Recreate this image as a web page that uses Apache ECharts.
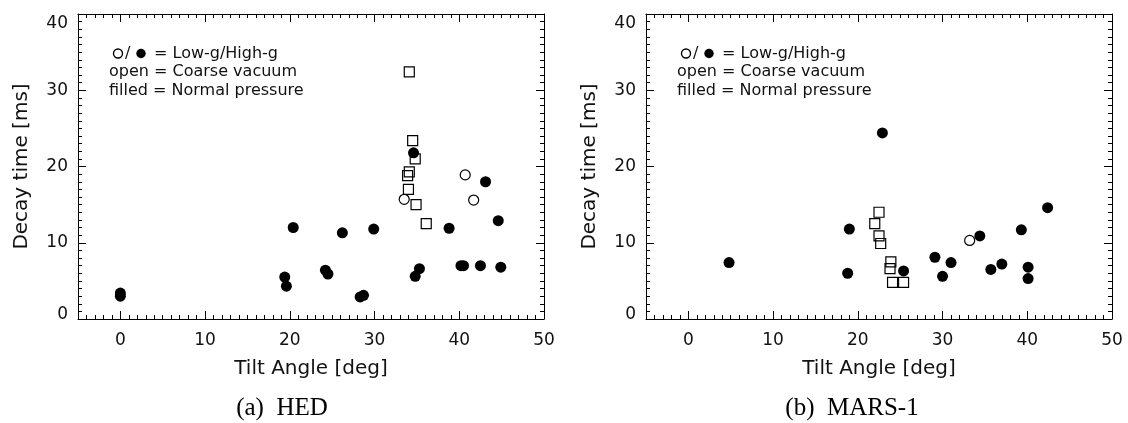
<!DOCTYPE html>
<html>
<head>
    <meta charset="utf-8">
    <title>Decay time vs tilt angle</title>
    <script src="https://cdn.jsdelivr.net/npm/echarts@6/dist/echarts.min.js"></script>
    <style>
        html, body { margin: 0; padding: 0; background: #fff; }
    </style>
</head>
<body>
<div id="main" style="width: 1128px;height:423px;"></div>
<script type="text/javascript">
    // tick labels
    var xTicks = [0, 10, 20, 30, 40, 50];
    var yTicks = [0, 10, 20, 30, 40];
    var captions = ['(a)  HED', '(b)  MARS-1'];

    // HED panel: [tilt angle, decay time]
    var hedFilled = [[0, 3.4], [0, 3.0], [19.4, 5.5], [19.6, 4.3], [20.4, 12.0], [24.2, 6.4], [24.5, 5.9],
        [26.2, 11.3], [28.3, 2.9], [28.7, 3.1], [29.9, 11.8], [34.6, 21.8], [34.8, 5.6], [35.3, 6.6],
        [38.8, 11.9], [40.2, 7.0], [40.5, 7.0], [42.5, 7.0], [43.1, 18.0], [44.6, 12.9], [44.9, 6.8]];
    var hedOpen = [[33.5, 15.7], [40.7, 18.9], [41.7, 15.6]];
    var hedSquare = [[34.1, 32.4], [34.5, 23.4], [34.8, 21.0], [34.1, 19.3], [33.9, 18.8], [34.0, 17.0],
        [34.9, 15.0], [36.1, 12.5]];

    // MARS-1 panel
    var marsFilled = [[4.8, 7.4], [18.8, 6.0], [19.0, 11.8], [22.9, 24.4], [25.4, 6.3], [29.1, 8.1], [30.0, 5.6],
        [31.0, 7.4], [34.4, 10.9], [35.7, 6.5], [37.0, 7.2], [39.3, 11.7], [40.1, 6.8], [40.1, 5.3], [42.4, 14.6]];
    var marsOpen = [[33.2, 10.3]];
    var marsSquare = [[22.0, 12.5], [22.5, 14.0], [22.5, 10.9], [22.7, 9.9], [23.8, 6.6], [23.9, 7.5],
        [24.1, 4.8], [25.4, 4.8]];

    var ink = '#111';
    var font = 'DejaVu Sans';
    var gridLefts = [78, 646];

    function xAxes(g) {
        var list = [];
        ['bottom', 'top'].forEach(function (pos) {
            var main = pos === 'bottom';
            // minor ticks + frame line
            list.push({
                gridIndex: g, type: 'value', position: pos, min: -5, max: 50, interval: 1,
                splitLine: {show: false},
                axisLine: {onZero: false, lineStyle: {color: '#000', width: 1}},
                axisTick: {inside: true, length: 4, lineStyle: {color: '#000'}},
                axisLabel: main ? {customValues: xTicks, margin: 13, fontSize: 17, color: ink, fontFamily: font}
                    : {show: false},
                name: main ? 'Tilt Angle [deg]' : '',
                nameLocation: 'middle', nameGap: 40,
                nameTextStyle: {fontSize: 20, color: ink, fontFamily: font}
            });
            // major ticks
            list.push({
                gridIndex: g, type: 'value', position: pos, min: -5, max: 50,
                splitLine: {show: false},
                axisLine: {show: false, onZero: false},
                axisTick: {inside: true, length: 8, customValues: xTicks, lineStyle: {color: '#000'}},
                axisLabel: {show: false}
            });
        });
        return list;
    }

    function yAxes(g) {
        var list = [];
        ['left', 'right'].forEach(function (pos) {
            var main = pos === 'left';
            list.push({
                gridIndex: g, type: 'value', position: pos, min: 0, max: 40, interval: 1,
                splitLine: {show: false},
                axisLine: {onZero: false, lineStyle: {color: '#000', width: 1}},
                axisTick: {inside: true, length: 4, lineStyle: {color: '#000'}},
                axisLabel: main ? {
                    customValues: yTicks, margin: 10, fontSize: 17, color: ink, fontFamily: font,
                    formatter: function (v) {
                        if (v === 0) return '{lo|0}';
                        if (v === 40) return '{hi|40}';
                        return String(v);
                    },
                    rich: {
                        lo: {fontSize: 17, fontFamily: font, color: ink, padding: [0, 0, 9, 0]},
                        hi: {fontSize: 17, fontFamily: font, color: ink, padding: [20, 0, 0, 0]}
                    }
                } : {show: false},
                name: main ? 'Decay time [ms]' : '',
                nameLocation: 'middle', nameGap: 46,
                nameTextStyle: {fontSize: 20, color: ink, fontFamily: font}
            });
            list.push({
                gridIndex: g, type: 'value', position: pos, min: 0, max: 40,
                splitLine: {show: false},
                axisLine: {show: false, onZero: false},
                axisTick: {inside: true, length: 8, customValues: yTicks, lineStyle: {color: '#000'}},
                axisLabel: {show: false}
            });
        });
        return list;
    }

    function panelSeries(g, filled, open, square) {
        var xi = g * 4, yi = g * 4;
        return [
            {type: 'scatter', xAxisIndex: xi, yAxisIndex: yi, data: square, symbol: 'rect', symbolSize: 10,
                itemStyle: {color: 'rgba(0,0,0,0)', borderColor: '#000', borderWidth: 1.2, opacity: 1}},
            {type: 'scatter', xAxisIndex: xi, yAxisIndex: yi, data: open, symbol: 'circle', symbolSize: 10,
                itemStyle: {color: 'rgba(0,0,0,0)', borderColor: '#000', borderWidth: 1.2, opacity: 1}},
            {type: 'scatter', xAxisIndex: xi, yAxisIndex: yi, data: filled, symbol: 'circle', symbolSize: 11,
                itemStyle: {color: '#000', opacity: 1}}
        ];
    }

    function legendGraphics(left) {
        var dx = left - 78;
        function txt(x, y, s) {
            return {type: 'text', x: x + dx, y: y, silent: true,
                style: {text: s, font: '16px "DejaVu Sans"', fill: ink,
                    textAlign: 'left', align: 'left', textVerticalAlign: 'middle', verticalAlign: 'middle'}};
        }
        return [
            {type: 'circle', shape: {cx: 118 + dx, cy: 53.5, r: 4.5}, silent: true,
                style: {fill: '#fff', stroke: '#000', lineWidth: 1.4}},
            txt(125, 53.5, '/'),
            {type: 'circle', shape: {cx: 141 + dx, cy: 53.5, r: 4.7}, silent: true, style: {fill: '#000'}},
            txt(154, 53.5, '= Low-g/High-g'),
            txt(109, 72, 'open = Coarse vacuum'),
            txt(109, 90.5, 'filled = Normal pressure')
        ];
    }

    var graphics = legendGraphics(gridLefts[0]).concat(legendGraphics(gridLefts[1]));
    [282, 852].forEach(function (cx, i) {
        graphics.push({type: 'text', x: cx, y: 408, silent: true,
            style: {text: captions[i], font: '25px "Liberation Serif"', fill: '#000',
                textAlign: 'center', align: 'center', textVerticalAlign: 'middle', verticalAlign: 'middle'}});
    });

    var myChart = echarts.init(document.getElementById('main'));
    var option = {
        animation: false,
        backgroundColor: '#fff',
        grid: [
            {left: gridLefts[0], top: 14, width: 466, height: 305},
            {left: gridLefts[1], top: 14, width: 466, height: 305}
        ],
        xAxis: xAxes(0).concat(xAxes(1)),
        yAxis: yAxes(0).concat(yAxes(1)),
        series: panelSeries(0, hedFilled, hedOpen, hedSquare).concat(panelSeries(1, marsFilled, marsOpen, marsSquare)),
        graphic: graphics
    };
    myChart.setOption(option);
</script>
</body>
</html>
